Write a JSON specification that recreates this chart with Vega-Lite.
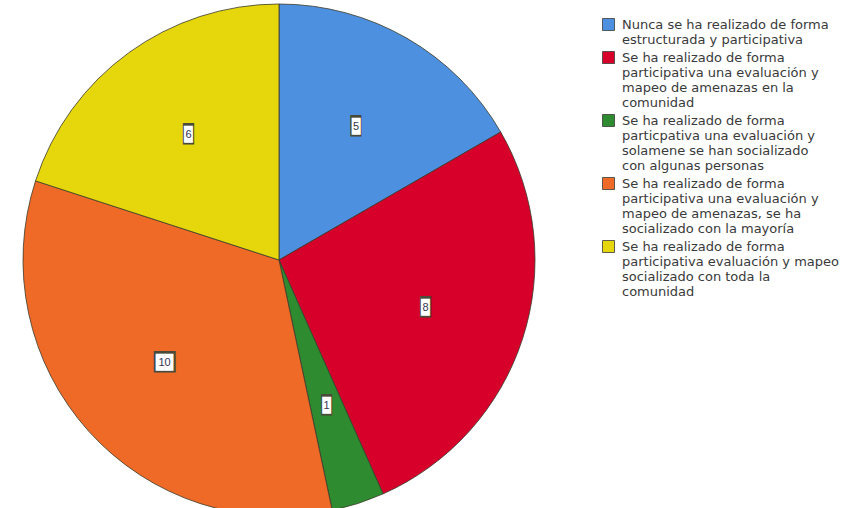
{
  "$schema": "https://vega.github.io/schema/vega-lite/v6.json",
  "width": 558,
  "height": 508,
  "autosize": {"type": "none"},
  "padding": {"left": 0, "top": 6, "right": 289, "bottom": 0},
  "background": "white",
  "view": {"stroke": null},
  "data": {
    "values": [
      {"orden": 1, "cat": "Nunca se ha realizado de forma\nestructurada y participativa", "n": 5},
      {"orden": 2, "cat": "Se ha realizado de forma\nparticipativa una evaluación y\nmapeo de amenazas en la\ncomunidad", "n": 8},
      {"orden": 3, "cat": "Se ha realizado de forma\nparticpativa una evaluación y\nsolamene se han socializado\ncon algunas personas", "n": 1},
      {"orden": 4, "cat": "Se ha realizado de forma\nparticipativa una evaluación y\nmapeo de amenazas, se ha\nsocializado con la mayoría", "n": 10},
      {"orden": 5, "cat": "Se ha realizado de forma\nparticipativa evaluación y mapeo\nsocializado con toda la\ncomunidad", "n": 6}
    ]
  },
  "transform": [
    {"calculate": "datum.n >= 10 ? '██' : '█'", "as": "caja"}
  ],
  "layer": [
    {
      "mark": {"type": "arc", "outerRadius": 256, "stroke": "#3a3a2a", "strokeWidth": 0.8},
      "encoding": {
        "theta": {"field": "n", "type": "quantitative", "stack": true},
        "order": {"field": "orden", "type": "quantitative"},
        "color": {
          "field": "cat",
          "type": "nominal",
          "scale": {
            "domain": [
              "Nunca se ha realizado de forma\nestructurada y participativa",
              "Se ha realizado de forma\nparticipativa una evaluación y\nmapeo de amenazas en la\ncomunidad",
              "Se ha realizado de forma\nparticpativa una evaluación y\nsolamene se han socializado\ncon algunas personas",
              "Se ha realizado de forma\nparticipativa una evaluación y\nmapeo de amenazas, se ha\nsocializado con la mayoría",
              "Se ha realizado de forma\nparticipativa evaluación y mapeo\nsocializado con toda la\ncomunidad"
            ],
            "range": ["#4E90E0", "#D6002B", "#2E8B30", "#F06A27", "#E6D60C"]
          },
          "legend": {
            "title": null,
            "orient": "none",
            "legendX": 602,
            "legendY": 12,
            "symbolType": "square",
            "symbolSize": 144,
            "symbolStrokeColor": "#3a3a3a",
            "symbolStrokeWidth": 0.8,
            "labelFont": "DejaVu Sans",
            "labelFontSize": 13,
            "labelColor": "#3a3a3a",
            "labelLimit": 300,
            "labelOffset": 7,
            "rowPadding": 2,
            "labelExpr": "split(datum.label, '\\n')"
          }
        }
      }
    },
    {
      "mark": {"type": "text", "radius": 154, "font": "DejaVu Sans Mono", "fontSize": 18, "color": "#4a4a3a"},
      "encoding": {
        "theta": {"field": "n", "type": "quantitative", "stack": true},
        "order": {"field": "orden", "type": "quantitative"},
        "detail": {"field": "cat", "type": "nominal"},
        "text": {"field": "caja", "type": "nominal"}
      }
    },
    {
      "mark": {"type": "text", "radius": 154, "font": "DejaVu Sans Mono", "fontSize": 14.5, "color": "white"},
      "encoding": {
        "theta": {"field": "n", "type": "quantitative", "stack": true},
        "order": {"field": "orden", "type": "quantitative"},
        "detail": {"field": "cat", "type": "nominal"},
        "text": {"field": "caja", "type": "nominal"}
      }
    },
    {
      "mark": {"type": "text", "radius": 154, "font": "Liberation Sans", "fontSize": 11, "color": "#333355"},
      "encoding": {
        "theta": {"field": "n", "type": "quantitative", "stack": true},
        "order": {"field": "orden", "type": "quantitative"},
        "detail": {"field": "cat", "type": "nominal"},
        "text": {"field": "n", "type": "quantitative"}
      }
    }
  ]
}
